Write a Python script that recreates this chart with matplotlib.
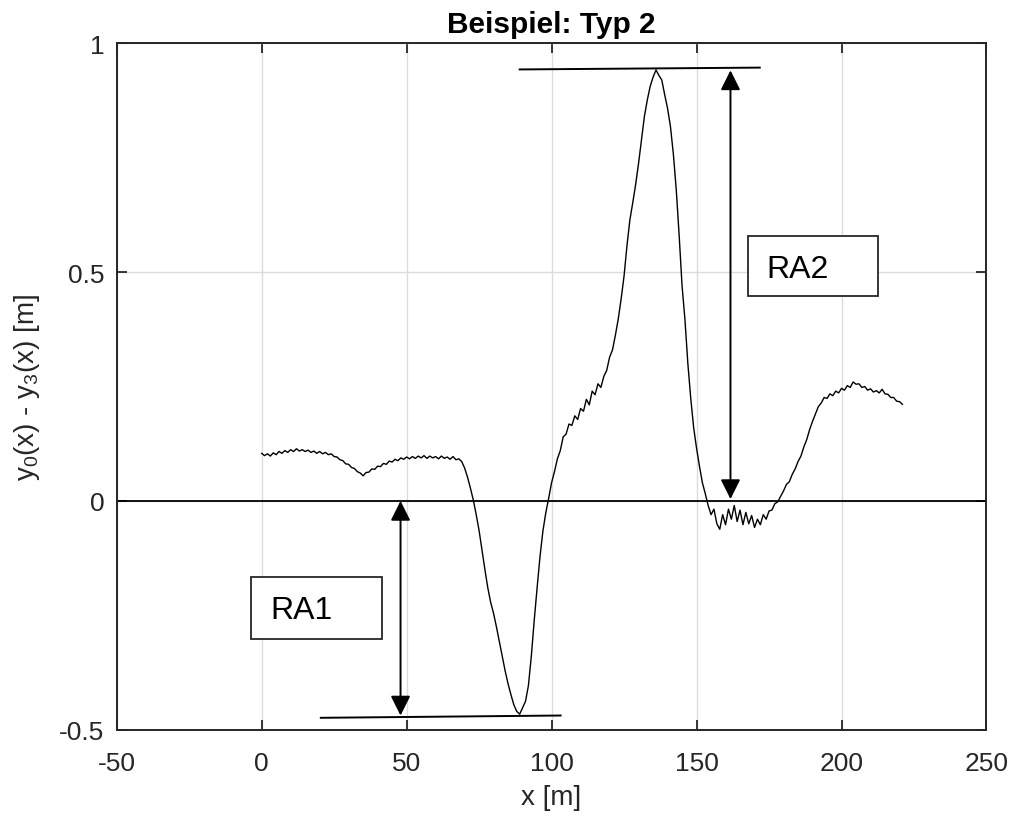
import numpy as np
import matplotlib
matplotlib.use("Agg")
import matplotlib.pyplot as plt
from matplotlib.patches import Rectangle

plt.rcParams["font.family"] = ["Liberation Sans", "DejaVu Sans"]
plt.rcParams["mathtext.fontset"] = "custom"
plt.rcParams["mathtext.rm"] = "Liberation Sans"
plt.rcParams["mathtext.default"] = "regular"
plt.rcParams["axes.unicode_minus"] = False

pos_x = np.arange(0, 222)

# y0(x) - y3(x) [m]
diff_y = [
    0.104, 0.099, 0.103, 0.098, 0.105, 0.101, 0.108, 0.104, 0.110, 0.106,   # 0-9
    0.112, 0.108, 0.114, 0.109, 0.112, 0.108, 0.111, 0.106, 0.109, 0.104,   # 10-19
    0.108, 0.103, 0.106, 0.101, 0.103, 0.097, 0.096, 0.090, 0.088, 0.081,   # 20-29
    0.080, 0.073, 0.071, 0.064, 0.061, 0.055, 0.062, 0.063, 0.070, 0.069,   # 30-39
    0.076, 0.075, 0.082, 0.080, 0.087, 0.085, 0.091, 0.088, 0.094, 0.091,   # 40-49
    0.096, 0.092, 0.097, 0.093, 0.098, 0.094, 0.099, 0.093, 0.098, 0.094,   # 50-59
    0.097, 0.092, 0.098, 0.093, 0.096, 0.091, 0.097, 0.090, 0.092, 0.086,   # 60-69
    0.072, 0.052, 0.028, 0.002, -0.030, -0.065, -0.108, -0.150, -0.190, -0.222,   # 70-79
    -0.246, -0.276, -0.308, -0.340, -0.372, -0.400, -0.424, -0.446, -0.460, -0.466,  # 80-89
    -0.452, -0.438, -0.404, -0.340, -0.262, -0.190, -0.122, -0.066, -0.026, 0.006,  # 90-99
    0.040, 0.064, 0.092, 0.110, 0.140, 0.146, 0.168, 0.165, 0.186, 0.178,   # 100-109
    0.202, 0.196, 0.222, 0.210, 0.240, 0.232, 0.256, 0.248, 0.272, 0.285,   # 110-119
    0.314, 0.330, 0.362, 0.398, 0.442, 0.492, 0.558, 0.614, 0.652, 0.692,   # 120-129
    0.738, 0.790, 0.840, 0.876, 0.906, 0.926, 0.942, 0.930, 0.920, 0.888,   # 130-139
    0.858, 0.818, 0.758, 0.680, 0.580, 0.470, 0.396, 0.300, 0.224, 0.160,   # 140-149
    0.115, 0.076, 0.040, 0.016, -0.010, -0.030, -0.018, -0.050, -0.062, -0.030,  # 150-159
    -0.052, -0.018, -0.040, -0.010, -0.045, -0.020, -0.052, -0.025, -0.050, -0.032,  # 160-169
    -0.058, -0.040, -0.052, -0.030, -0.040, -0.022, -0.020, -0.006, -0.002, 0.010,  # 170-179
    0.022, 0.036, 0.042, 0.058, 0.070, 0.086, 0.098, 0.118, 0.134, 0.156,   # 180-189
    0.174, 0.190, 0.206, 0.214, 0.226, 0.224, 0.234, 0.230, 0.240, 0.236,   # 190-199
    0.246, 0.242, 0.252, 0.248, 0.260, 0.255, 0.256, 0.248, 0.250, 0.242,   # 200-209
    0.245, 0.238, 0.241, 0.236, 0.244, 0.234, 0.233, 0.226, 0.226, 0.218,   # 210-219
    0.217, 0.211,                                                           # 220-221
]

x_ticks = [-50, 0, 50, 100, 150, 200, 250]
x_tick_labels = ["-50", "0", "50", "100", "150", "200", "250"]
y_ticks = [-0.5, 0, 0.5, 1]
y_tick_labels = ["-0.5", "0", "0.5", "1"]

# Hilfslinien an Maximum und Minimum
top_line_x = [89.0, 171.8]
top_line_y = [0.943, 0.947]
bottom_line_x = [20.4, 103.1]
bottom_line_y = [-0.474, -0.469]

# Pfeile: x, y_von, y_bis
ra1_arrow = (47.9, 0.0, -0.469)
ra2_arrow = (161.7, 0.004, 0.941)

# Textfelder: x0, y0, breite, hoehe, text_x, text_y
ra1_box = (-3.7, -0.301, 45.1, 0.134, 2.9, -0.255)
ra2_box = (167.8, 0.447, 44.8, 0.132, 174.1, 0.490)

DARK = "#262626"

fig = plt.figure(figsize=(10.12, 8.2), dpi=100)
ax = fig.add_axes([0.1153, 0.1089, 0.8595, 0.837])

ax.plot(pos_x, diff_y, color="black", linewidth=1.0, zorder=3)
ax.axhline(0, color="black", linewidth=1.3, zorder=2)

ax.plot(top_line_x, top_line_y, color="black", linewidth=1.4, zorder=4)
ax.plot(bottom_line_x, bottom_line_y, color="black", linewidth=1.4, zorder=4)

for xa, y_from, y_to in (ra1_arrow, ra2_arrow):
    ax.annotate("", xy=(xa, y_to), xytext=(xa, y_from),
                arrowprops=dict(arrowstyle="<|-|>,head_length=0.6,head_width=0.3",
                                mutation_scale=20, color="black", linewidth=1.4,
                                shrinkA=0, shrinkB=0),
                zorder=5)

for (x0, y0, w, h, tx, ty), label in ((ra1_box, "RA1"), (ra2_box, "RA2")):
    ax.add_patch(Rectangle((x0, y0), w, h, facecolor="white", edgecolor=DARK,
                           linewidth=1.3, zorder=6))
    ax.text(tx, ty, label, fontsize=23, ha="left", va="baseline", color="black", zorder=7)

ax.set_xlim(-50, 250)
ax.set_ylim(-0.5, 1)
ax.set_xticks(x_ticks)
ax.set_xticklabels(x_tick_labels)
ax.set_yticks(y_ticks)
ax.set_yticklabels(y_tick_labels)

ax.grid(True, color="#dcdcdc", linewidth=1.0, zorder=0)
ax.set_axisbelow(True)
ax.tick_params(direction="in", length=7, width=1.3, colors=DARK, labelsize=19,
               top=True, right=True)
ax.tick_params(axis="x", pad=15)
ax.tick_params(axis="y", pad=9)
for s in ax.spines.values():
    s.set_color(DARK)
    s.set_linewidth(1.4)

ax.set_xlabel("x [m]", fontsize=20, color=DARK, labelpad=7)
ax.set_ylabel("y$_0$(x) - y$_3$(x) [m]", fontsize=20, color=DARK, labelpad=12)
ax.set_title("Beispiel: Typ 2", fontsize=21.5, fontweight="bold", pad=8)

fig.savefig("out.png", dpi=100)
